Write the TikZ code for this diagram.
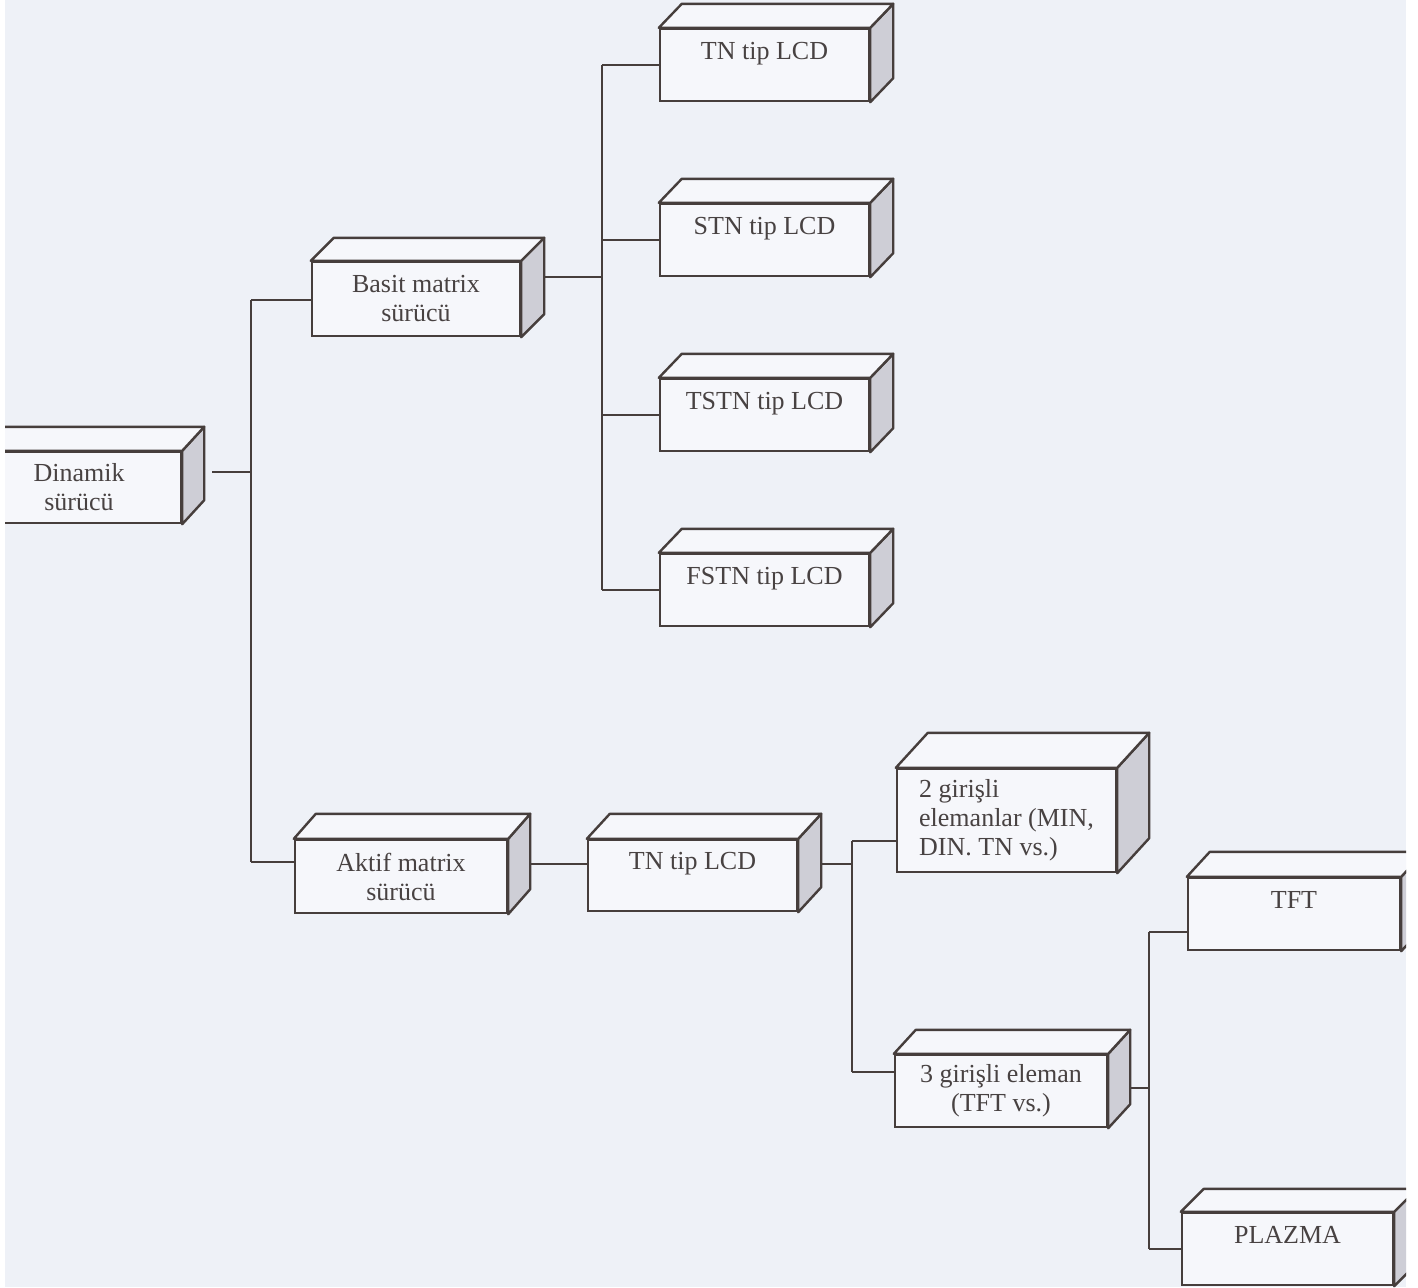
\documentclass[tikz,border=0pt]{standalone}
\usepackage{fontspec}
\setmainfont{Liberation Serif}
\usetikzlibrary{calc}
\definecolor{ink}{RGB}{70,62,60}
\definecolor{txt}{RGB}{72,66,66}
\definecolor{paper}{RGB}{238,241,247}
\definecolor{face}{RGB}{246,247,251}
\definecolor{side}{RGB}{206,206,214}
\tikzset{
  cub/.style={draw=ink, fill=face, line width=1.2pt, inner sep=0pt, align=center,
    text=txt, font=\fontsize{13}{14.5}\selectfont},
  sz/.style 2 args={minimum width=#1*0.5pt, minimum height=#2*0.5pt},
  wire/.style={draw=ink, line width=1.2pt},
}
\newcommand\boxfaces[3]{%
  \filldraw[draw=ink, fill=side, line width=1.2pt, line join=round]
    (#1.north east) -- ++(#2,-#3) -- ($(#1.south east)+(#2,-#3)$) -- (#1.south east) -- cycle;
  \filldraw[draw=ink, fill=face, line width=1.2pt, line join=round]
    (#1.north west) -- ++(#2,-#3) -- ($(#1.north east)+(#2,-#3)$) -- (#1.north east) -- cycle;
  \coordinate (#1-r) at ($(#1.east)+(#2,0)$);
}
\begin{document}
\begin{tikzpicture}[x=0.5pt,y=-0.5pt]
\useasboundingbox (0,0) rectangle (1418,1287);
\fill[white] (0,0) rectangle (1418,1287);
\fill[paper] (5,0) rectangle (1406,1287);
\begin{scope}
\clip (5,0) rectangle (1406,1287);
% boxes
\node[cub, sz={204}{71}] (din) at (79,487.5) {Dinamik\\sürücü};
\boxfaces{din}{22}{24}
\node[cub, sz={208}{74}] (basit) at (416,299) {Basit matrix\\sürücü};
\boxfaces{basit}{23}{23}
\node[cub, sz={209}{72}] (tn1) at (764.5,65) {TN tip LCD\\\phantom{X}};
\boxfaces{tn1}{23}{24}
\node[cub, sz={209}{72}] (stn) at (764.5,240) {STN tip LCD\\\phantom{X}};
\boxfaces{stn}{23}{24}
\node[cub, sz={209}{72}] (tstn) at (764.5,415) {TSTN tip LCD\\\phantom{X}};
\boxfaces{tstn}{23}{24}
\node[cub, sz={209}{72}] (fstn) at (764.5,590) {FSTN tip LCD\\\phantom{X}};
\boxfaces{fstn}{23}{24}
\node[cub, sz={212}{73}] (aktif) at (401,876.5) {Aktif matrix\\sürücü};
\boxfaces{aktif}{22}{25}
\node[cub, sz={209}{71}] (tn2) at (692.5,875.5) {TN tip LCD\\\phantom{X}};
\boxfaces{tn2}{23}{25}
\node[cub, sz={219}{103}, align=left] (g2) at (1006.5,820.5) {2 girişli\\elemanlar (MIN,\\DIN. TN vs.)};
\boxfaces{g2}{32}{35}
\node[cub, sz={212}{72}] (g3) at (1001,1091) {3 girişli eleman\\(TFT vs.)};
\boxfaces{g3}{22}{24}
\node[cub, sz={212}{72}] (tft) at (1294,914) {TFT\\\phantom{X}};
\boxfaces{tft}{23}{25}
\node[cub, sz={211}{72}] (plz) at (1287.5,1249) {PLAZMA\\\phantom{X}};
\boxfaces{plz}{23}{23}
% junction coordinates
\coordinate (d0) at (212,472);
\coordinate (a0) at (251,472);
\coordinate (a1) at (251,300);
\coordinate (a2) at (251,862);
\coordinate (b0) at (602,277);
\coordinate (b1) at (602,65);
\coordinate (b2) at (602,240);
\coordinate (b3) at (602,415);
\coordinate (b4) at (602,590);
\coordinate (c0) at (550,864);
\coordinate (e0) at (852,864);
\coordinate (e1) at (852,841);
\coordinate (e2) at (852,1072);
\coordinate (f0) at (1149,1088);
\coordinate (f1) at (1149,932);
\coordinate (f2) at (1149,1249);
% connectors
\draw[wire] (d0) -- (a0);
\draw[wire] (a1) -- (a2);
\draw[wire] (a1) -- (a1 -| basit.west);
\draw[wire] (a2) -- (a2 -| aktif.west);
\draw[wire] (b0 -| basit-r) -- (b0);
\draw[wire] (b1) -- (b4);
\draw[wire] (b1) -- (b1 -| tn1.west);
\draw[wire] (b2) -- (b2 -| stn.west);
\draw[wire] (b3) -- (b3 -| tstn.west);
\draw[wire] (b4) -- (b4 -| fstn.west);
\draw[wire] (c0 -| aktif-r) -- (c0 -| tn2.west);
\draw[wire] (e0 -| tn2-r) -- (e0);
\draw[wire] (e1) -- (e2);
\draw[wire] (e1) -- (e1 -| g2.west);
\draw[wire] (e2) -- (e2 -| g3.west);
\draw[wire] (f0 -| g3-r) -- (f0);
\draw[wire] (f1) -- (f2);
\draw[wire] (f1) -- (f1 -| tft.west);
\draw[wire] (f2) -- (f2 -| plz.west);
\end{scope}
\end{tikzpicture}
\end{document}
